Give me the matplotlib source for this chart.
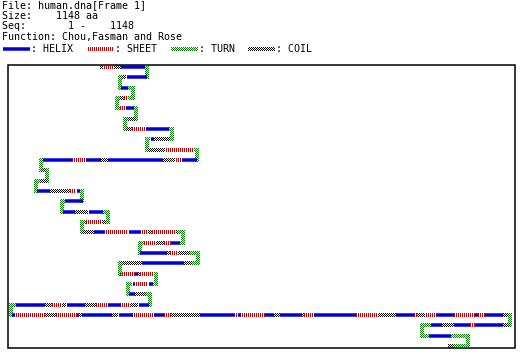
import numpy as np
import matplotlib.pyplot as plt
from matplotlib.patches import Rectangle
from matplotlib.collections import PatchCollection

W, H = 525, 358
PX = 72.0 / 100  # points per pixel

header = ["File: human.dna[Frame 1]",
          "Size:    1148 aa",
          "Seq:       1 -    1148",
          "Function: Chou,Fasman and Rose"]
legend_codes = ["H", "E", "T", "C"]
legend_names = ["HELIX", "SHEET", "TURN", "COIL"]

# trace of the chain, one list per row, rows alternate right / left
# each run: (structure, length)
row01 = [("C", 3), ("E", 11), ("C", 7), ("H", 24), ("T", 2)]
row02 = [("H", 20.5), ("C", 4), ("T", 2)]
row03 = [("H", 7), ("T", 6)]
row04 = [("T", 5), ("E", 4.5), ("C", 3.5), ("T", 3)]
row05 = [("T", 2.5), ("E", 6), ("H", 7.5), ("T", 2.5)]
row06 = [("C", 8), ("T", 2.5)]
row07 = [("C", 6), ("E", 14), ("H", 23), ("T", 4)]
row08 = [("T", 2.5), ("C", 16), ("H", 3.5), ("T", 3)]
row09 = [("C", 17.5), ("E", 29.5), ("T", 2.5)]
row10 = [("H", 15), ("E", 7), ("C", 12), ("H", 55), ("C", 7.5), ("H", 15),
         ("E", 12.5), ("H", 30.5), ("T", 1.5)]
row11 = [("C", 5), ("T", 1.5)]
row12 = [("C", 8), ("T", 3)]
row13 = [("H", 13.5), ("C", 19.5), ("E", 7), ("H", 3.5), ("T", 2.5)]
row14 = [("H", 17.5), ("T", 2.5)]
row15 = [("H", 12.5), ("C", 13.5), ("H", 14), ("T", 6)]
row16 = [("T", 2.5), ("C", 3.5), ("E", 16.5), ("T", 3.5)]
row17 = [("C", 11.5), ("H", 11), ("E", 23.5), ("H", 12.5), ("E", 7), ("C", 4.5),
         ("E", 23.5), ("C", 1.5), ("T", 6)]
row18 = [("T", 4), ("H", 8.5), ("E", 7.5), ("C", 7), ("E", 12), ("T", 4.5)]
row19 = [("H", 26.5), ("C", 3.5), ("E", 8.5), ("C", 11.5), ("T", 8.5)]
row20 = [("T", 6.5), ("C", 8.5), ("H", 42), ("C", 20), ("T", 1.5)]
row21 = [("E", 15), ("H", 2.5), ("C", 3), ("E", 13.5), ("T", 2.5)]
row22 = [("T", 4), ("H", 4), ("E", 13.5), ("H", 2.5), ("T", 4)]
row23 = [("H", 6.5), ("C", 11), ("T", 4)]
row24 = [("T", 1.5), ("H", 10), ("C", 8.5), ("E", 9.5), ("H", 13), ("E", 11),
         ("C", 12), ("H", 18), ("C", 5), ("E", 9), ("C", 7.5), ("H", 29), ("T", 4.5)]
row25 = [("H", 3.5), ("E", 14.5), ("H", 1.5), ("E", 14), ("C", 11), ("E", 21),
         ("H", 1.5), ("C", 3), ("H", 30), ("C", 7), ("H", 14), ("E", 21),
         ("H", 10.5), ("E", 7), ("C", 29), ("H", 35), ("E", 2.5), ("H", 3),
         ("E", 24.5), ("H", 9), ("C", 5.5), ("H", 22), ("C", 2.5), ("E", 10),
         ("H", 42), ("E", 22.5), ("C", 17.5), ("H", 17.5), ("E", 3.5), ("C", 8),
         ("E", 11), ("H", 17.5), ("E", 21.5), ("H", 2.5), ("E", 7.5), ("H", 17.5),
         ("C", 6), ("T", 2)]
row26 = [("C", 7.5), ("H", 28), ("E", 5), ("H", 16.5), ("C", 12), ("H", 10.5), ("T", 8.5)]
row27 = [("T", 6.5), ("H", 21.5), ("T", 18)]
row28 = [("T", 15), ("C", 5)]
rows = [row01, row02, row03, row04, row05, row06, row07, row08, row09, row10,
        row11, row12, row13, row14, row15, row16, row17, row18, row19, row20,
        row21, row22, row23, row24, row25, row26, row27, row28]

colors = {"H": "#0000dd", "E": "#cc0000", "T": "#008000", "C": "black"}
cells = {"E": [], "T": [], "C": []}


def draw_run(ax, kind, x0, y0, x1, y1):
    if kind == "H":
        ax.plot([x0, x1], [y0, y1], color=colors[kind], lw=3.5 * PX,
                solid_capstyle='butt')
        return
    # patterned runs are built from one-pixel cells
    horiz = y0 == y1
    a0, a1 = sorted([x0, x1]) if horiz else sorted([y0, y1])
    c = y0 if horiz else x0
    along = np.arange(int(np.round(a0)), int(np.round(a1)))
    across = np.arange(int(np.floor(c)) - 2, int(np.floor(c)) + 2)
    for p in along:
        for q in across:
            if kind == "E":
                keep = p % 2 == 0          # stripes
            else:
                keep = (p + q) % 2 == 0    # checker
            if keep:
                cells[kind].append((p, q) if horiz else (q, p))


fig = plt.figure(figsize=(W / 100, H / 100), dpi=100)
ax = fig.add_axes([0, 0, 1, 1])
ax.set_xlim(0, W)
ax.set_ylim(H, 0)
ax.axis('off')

# header text
for i, line in enumerate(header):
    ax.text(2, 5 + i * 10.7, line, fontsize=7.2, family='DejaVu Sans Mono', va='center')

# legend
leg_x = [3, 87, 171, 248]
for code, name, lx in zip(legend_codes, legend_names, leg_x):
    draw_run(ax, code, lx, 49, lx + 27, 49)
    ax.text(lx + 28, 49.3, ": " + name, fontsize=7.2, family='DejaVu Sans Mono', va='center')

# frame
ax.add_patch(Rectangle((8, 65), 507, 283, fill=False, lw=1.1, edgecolor='black'))

# trace
x = 100.0
row_y = np.round(67 + 10.333 * np.arange(len(rows)))
verticals = []
for i, runs in enumerate(rows):
    sign = 1 if i % 2 == 0 else -1
    y = row_y[i]
    for kind, length in runs:
        nx = x + sign * length
        draw_run(ax, kind, x, y, nx, y)
        x = nx
    if i < len(rows) - 1:
        verticals.append((x, y - 2, row_y[i + 1] + 2))
for vx, ya, yb in verticals:
    draw_run(ax, "T", vx, ya, vx, yb)

for kind, pts in cells.items():
    pc = PatchCollection([Rectangle(p, 1, 1) for p in pts], facecolor=colors[kind],
                         edgecolor='none', antialiased=False)
    ax.add_collection(pc)

fig.savefig("out.png", dpi=100)
